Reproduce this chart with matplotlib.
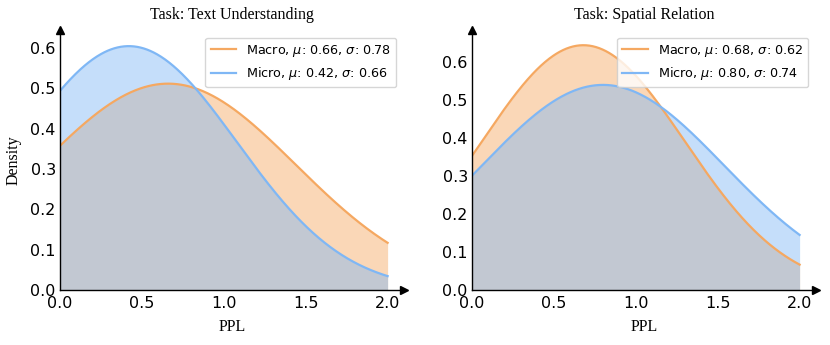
import numpy as np
import matplotlib
matplotlib.use("Agg")
import matplotlib.pyplot as plt

# PPL distributions per task (mean, std read from the legends)
tasks = ["Text Understanding", "Spatial Relation"]
macro_mu = [0.66, 0.68]
macro_sigma = [0.78, 0.62]
micro_mu = [0.42, 0.80]
micro_sigma = [0.66, 0.74]

orange = "#f5a861"
blue = "#7fb7f5"


def normal_pdf(x, mu, sigma):
    return np.exp(-0.5 * ((x - mu) / sigma) ** 2) / (sigma * np.sqrt(2 * np.pi))


x = np.linspace(0, 2, 400)

fig = plt.figure(figsize=(8.3, 3.45), dpi=100)
lefts = [60 / 830, 472 / 830]

for i, task in enumerate(tasks):
    ax = fig.add_axes([lefts[i], 55 / 345, 344 / 830, 260 / 345])
    y_ma = normal_pdf(x, macro_mu[i], macro_sigma[i])
    y_mi = normal_pdf(x, micro_mu[i], micro_sigma[i])

    ax.fill_between(x, y_ma, color=orange, alpha=0.45, lw=0)
    ax.fill_between(x, y_mi, color=blue, alpha=0.45, lw=0)
    ax.plot(x, y_ma, color=orange, lw=1.6,
            label=rf"Macro, $\mu$: {macro_mu[i]:.2f}, $\sigma$: {macro_sigma[i]:.2f}")
    ax.plot(x, y_mi, color=blue, lw=1.6,
            label=rf"Micro, $\mu$: {micro_mu[i]:.2f}, $\sigma$: {micro_sigma[i]:.2f}")

    ax.set_xlim(0, 2.1)
    ax.set_ylim(0, max(y_ma.max(), y_mi.max()) + 0.04)
    ax.set_xticks([0, 0.5, 1.0, 1.5, 2.0])
    ax.set_yticks([0, 0.1, 0.2, 0.3, 0.4, 0.5, 0.6])
    ax.tick_params(length=0, labelsize=11.5)
    ax.tick_params(axis="x", pad=4)
    ax.tick_params(axis="y", pad=3)

    for s in ["top", "right"]:
        ax.spines[s].set_visible(False)
    ax.spines["left"].set_linewidth(1.0)
    ax.spines["bottom"].set_linewidth(1.0)
    ax.plot(1, 0, ">k", transform=ax.transAxes, clip_on=False, ms=6)
    ax.plot(0, 1, "^k", transform=ax.transAxes, clip_on=False, ms=6)

    ax.set_title(f"Task: {task}", family="Liberation Serif", fontsize=11.5, pad=8)
    ax.set_xlabel("PPL", family="Liberation Serif", fontsize=11.5, labelpad=6)
    if i == 0:
        ax.set_ylabel("Density", family="Liberation Serif", fontsize=11.5, labelpad=6)

    ax.legend(loc="upper right", fontsize=9.2, frameon=True, fancybox=True,
              borderaxespad=0.6, handlelength=2.0)

fig.savefig("out.png", dpi=100)
